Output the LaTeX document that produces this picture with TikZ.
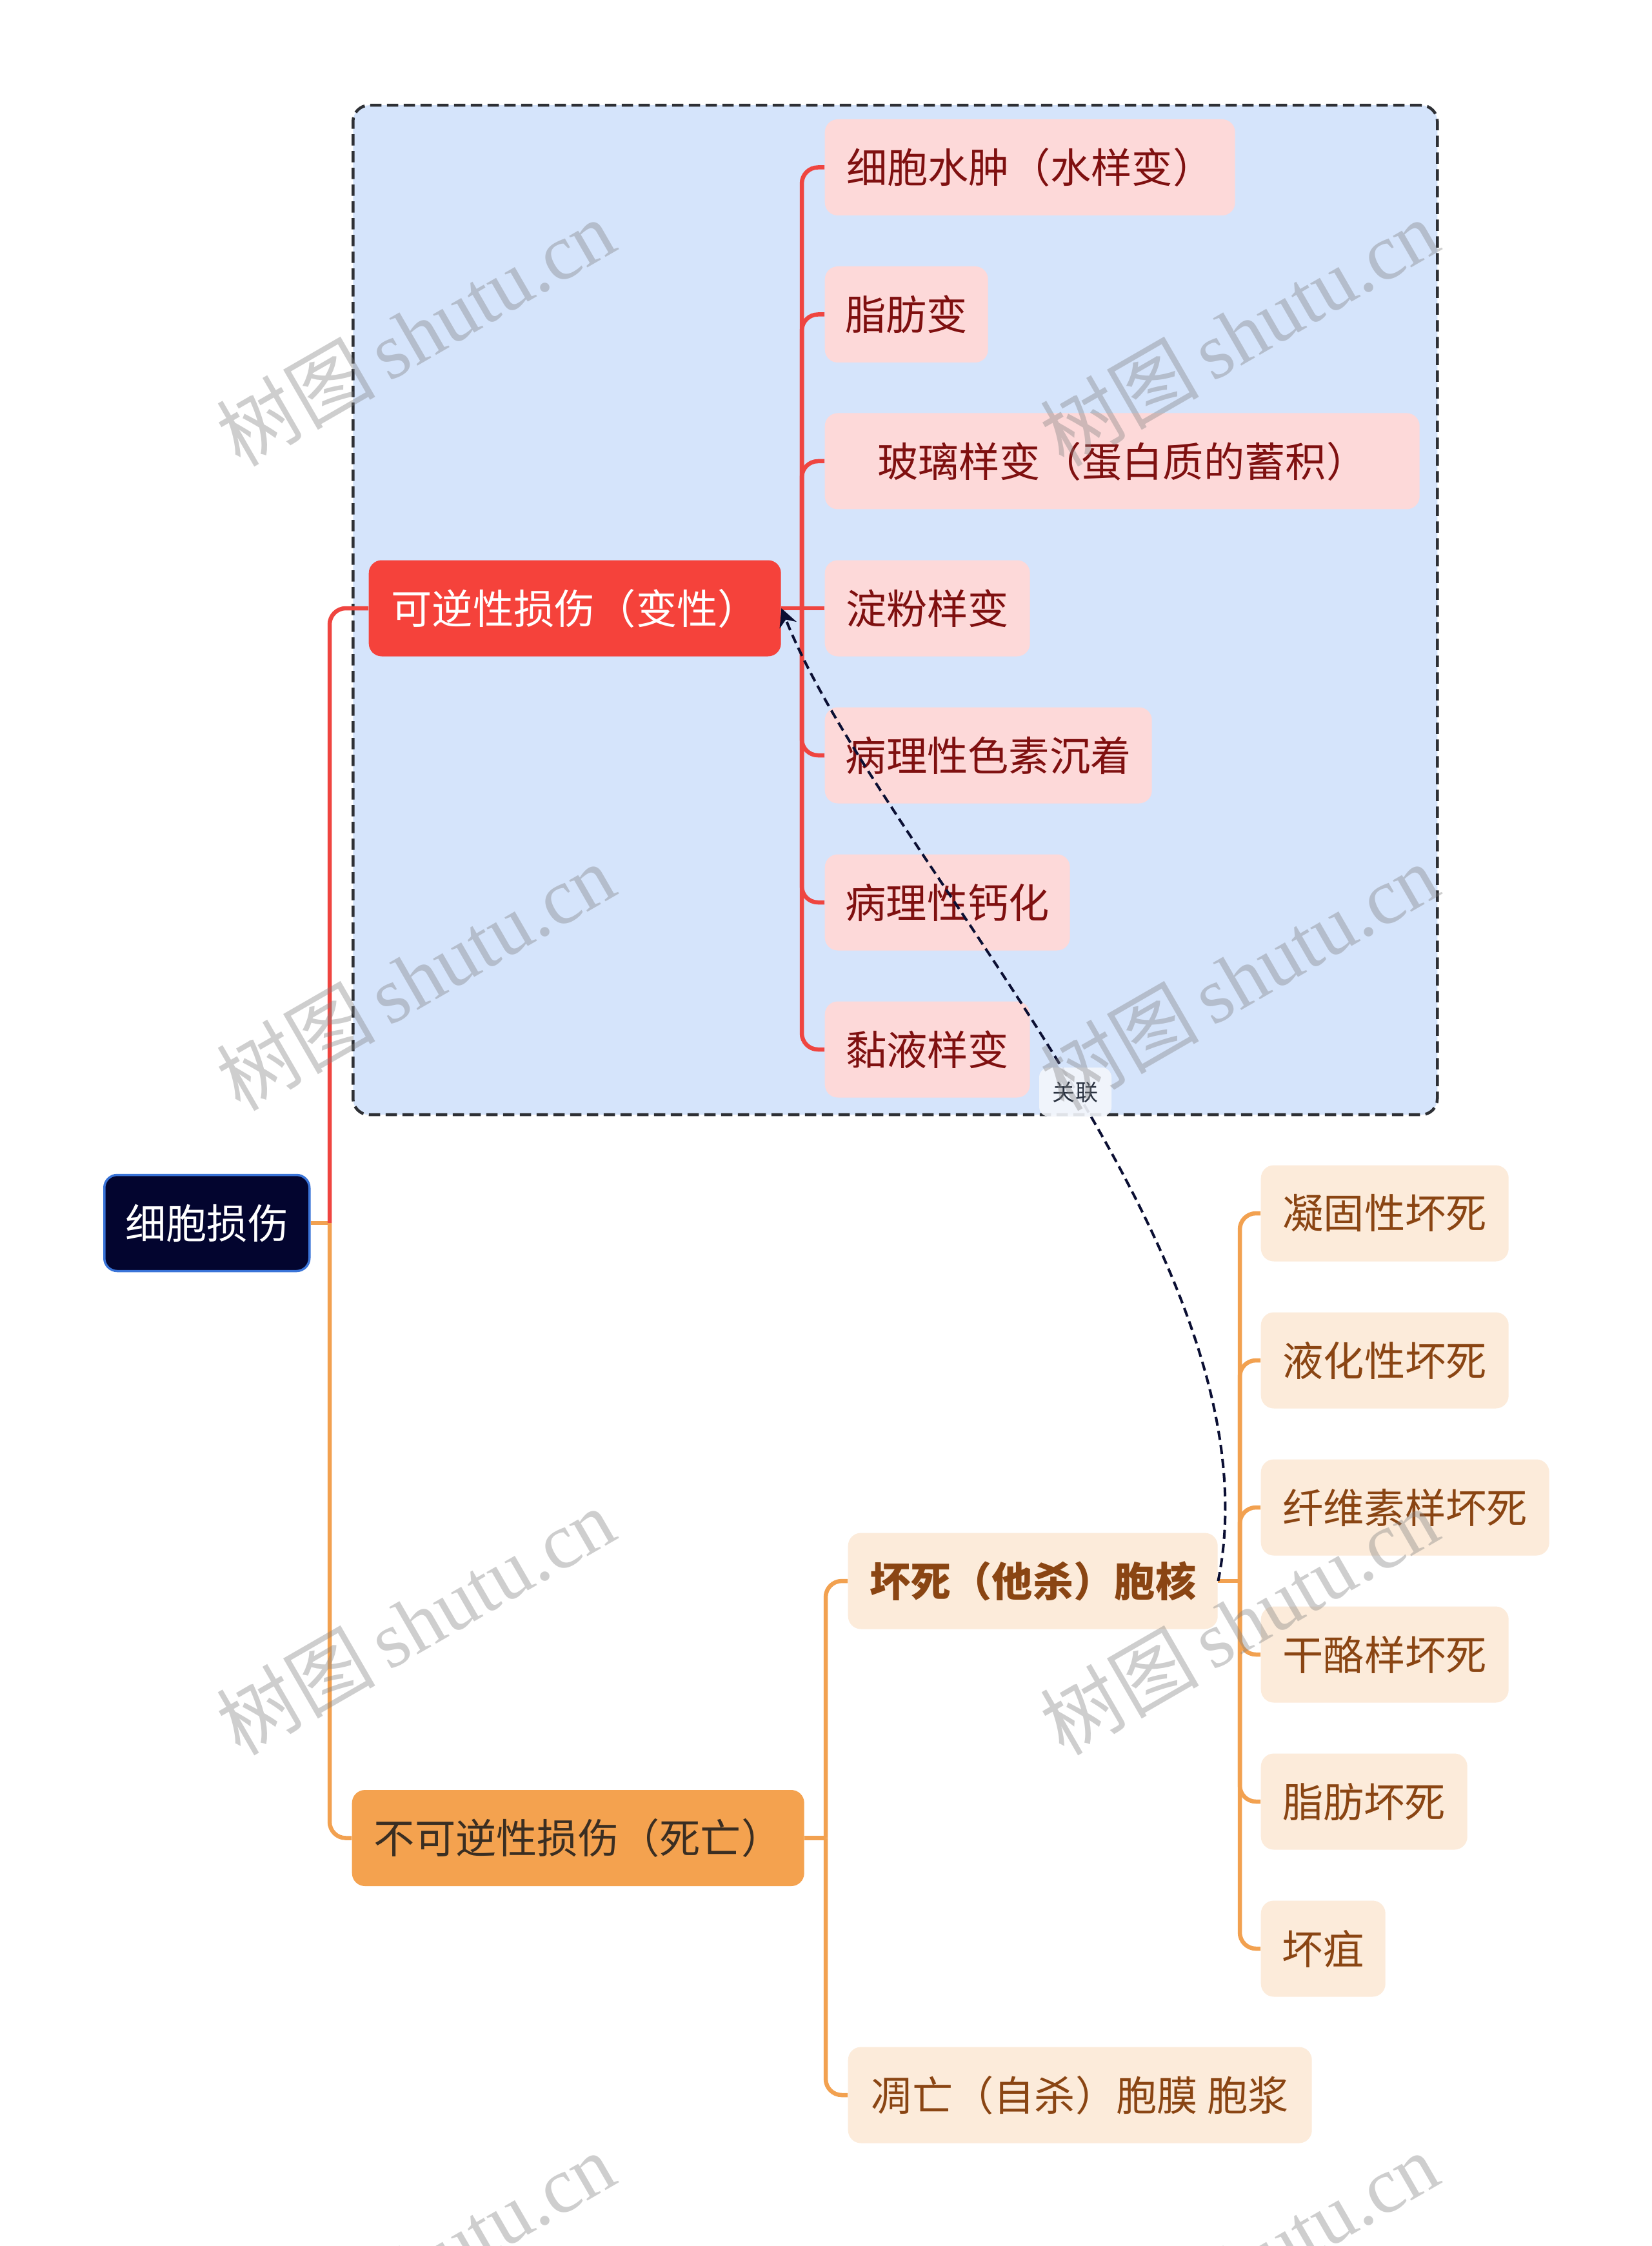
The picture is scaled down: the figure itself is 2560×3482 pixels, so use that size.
\documentclass[tikz,border=0pt]{standalone}
\usepackage{fontspec}
\newfontfamily\cjk{Noto Sans CJK SC}
\newfontfamily\wmserif{Liberation Serif}
\usetikzlibrary{arrows.meta}
\definecolor{bluebg}{HTML}{D5E4FB}
\definecolor{framec}{HTML}{2E3035}
\definecolor{redmain}{HTML}{F5423B}
\definecolor{redline}{HTML}{EF4540}
\definecolor{redfill}{HTML}{FDD9D9}
\definecolor{redtext}{HTML}{7F1010}
\definecolor{rootfill}{HTML}{03052F}
\definecolor{rootborder}{HTML}{3A74D8}
\definecolor{orgmain}{HTML}{F4A24F}
\definecolor{orgline}{HTML}{F2A150}
\definecolor{orgfill}{HTML}{FCEBDA}
\definecolor{orgtext}{HTML}{8A4513}
\definecolor{darktext}{HTML}{3A2E22}
\definecolor{relc}{HTML}{0B0F33}
\definecolor{lblfill}{HTML}{F3F6FB}
\definecolor{lbltext}{HTML}{2A3240}
\begin{document}
\begin{tikzpicture}[x=0.1mm,y=-0.1mm,
  basebox/.style={rounded corners=2mm, inner sep=0pt, minimum height=14.9mm,
    font=\cjk\fontsize{18}{22}\selectfont, anchor=west},
  rootbox/.style={basebox, fill=rootfill, draw=rootborder, line width=0.35mm, text=white},
  redbig/.style={basebox, fill=redmain, text=white},
  orgbig/.style={basebox, fill=orgmain, text=darktext},
  redkid/.style={basebox, fill=redfill, text=redtext},
  orgkid/.style={basebox, fill=orgfill, text=orgtext},
  frame/.style={draw=framec, fill=bluebg, line width=0.45mm, dash pattern=on 1.75mm off 0.85mm,
    rounded corners=2.5mm, inner sep=0pt, anchor=north west},
  rline/.style={draw=redline, line width=0.65mm, rounded corners=2.5mm},
  oline/.style={draw=orgline, line width=0.65mm, rounded corners=2.5mm},
  rel/.style={draw=relc, line width=0.4mm, dash pattern=on 1.4mm off 0.8mm,
    -{Stealth[length=2.8mm,width=2.8mm]}},
  lbl/.style={fill=lblfill, fill opacity=0.9, text opacity=1, rounded corners=1.5mm,
    minimum width=11.2mm, minimum height=7.6mm, inner sep=0pt, text=lbltext,
    font=\cjk\fontsize{10}{12}\selectfont},
  wm/.style={rotate=30, text=gray, opacity=0.38, font=\fontsize{35}{40}\selectfont}
]
\useasboundingbox (0,0) rectangle (2560,3482);
\clip (0,0) rectangle (2560,3482);
\fill[white] (0,0) rectangle (2560,3482);

% frame of the reversible group
\node[frame, minimum width=168.1mm, minimum height=156.5mm] (frm) at (545,161) {};

% nodes
\node[rootbox, minimum width=31.8mm] (root) at (160,1896) {细胞损伤};
\node[redbig, minimum width=63.9mm] (kn) at (571,943) {可逆性损伤（变性）};
\node[orgbig, minimum width=70.1mm] (bk) at (545,2849.5) {不可逆性损伤（死亡）};

\node[redkid, minimum width=63.6mm] (r1) at (1278,259.5) {细胞水肿（水样变）};
\node[redkid, minimum width=25.3mm] (r2) at (1278,487.5) {脂肪变};
\node[redkid, minimum width=92.2mm] (r3) at (1278,715) {玻璃样变（蛋白质的蓄积）};
\node[redkid, minimum width=31.8mm] (r4) at (1278,943) {淀粉样变};
\node[redkid, minimum width=50.7mm] (r5) at (1278,1171) {病理性色素沉着};
\node[redkid, minimum width=38.0mm] (r6) at (1278,1399) {病理性钙化};
\node[redkid, minimum width=31.8mm] (r7) at (1278,1627) {黏液样变};

\node[orgkid, minimum width=57.3mm, font=\cjk\bfseries\fontsize{18}{22}\selectfont] (hs) at (1314,2451) {坏死（他杀）胞核};
\node[orgkid, minimum width=71.9mm] (dw) at (1314,3248) {凋亡（自杀）胞膜 胞浆};

\node[orgkid, minimum width=38.4mm] (o1) at (1954,1881) {凝固性坏死};
\node[orgkid, minimum width=38.4mm] (o2) at (1954,2109) {液化性坏死};
\node[orgkid, minimum width=44.7mm] (o3) at (1954,2337) {纤维素样坏死};
\node[orgkid, minimum width=38.4mm] (o4) at (1954,2565) {干酪样坏死};
\node[orgkid, minimum width=32.0mm] (o5) at (1954,2793) {脂肪坏死};
\node[orgkid, minimum width=19.3mm] (o6) at (1954,3021) {坏疽};

% junction points
\coordinate (j0) at (511,1896);
\coordinate (j1) at (1243,943);
\coordinate (j2) at (1280,2849.5);
\coordinate (j3) at (1922,2451);

% connectors from root
\draw[oline] (root.east) -- (j0);
\draw[rline] (j0) |- (kn.west);
\draw[oline] (j0) |- (bk.west);

% reversible children
\draw[rline] (kn.east) -- (r4.west);
\foreach \n in {r1,r2,r3,r5,r6,r7} \draw[rline] (j1) |- (\n.west);

% irreversible children
\draw[oline] (bk.east) -- (j2);
\draw[oline] (j2) |- (hs.west);
\draw[oline] (j2) |- (dw.west);

% necrosis children
\draw[oline] (hs.east) -- (j3);
\foreach \n in {o1,o2,o3,o4,o5,o6} \draw[oline] (j3) |- (\n.west);

% relation
\draw[rel] (hs.east) .. controls (1990,1950) and (1360,1320) .. (kn.east);
\node[lbl] (lb) at (1667,1693) {关联};

% watermarks
\foreach \i/\xx/\yy in {1/644/515, 2/1921/515, 3/644/1514, 4/1921/1514, 5/644/2513, 6/1921/2513, 7/644/3512, 8/1921/3512}
  \node[wm] (wm\i) at (\xx,\yy) {\cjk 树图\,\wmserif shutu.cn};
\end{tikzpicture}
\end{document}
